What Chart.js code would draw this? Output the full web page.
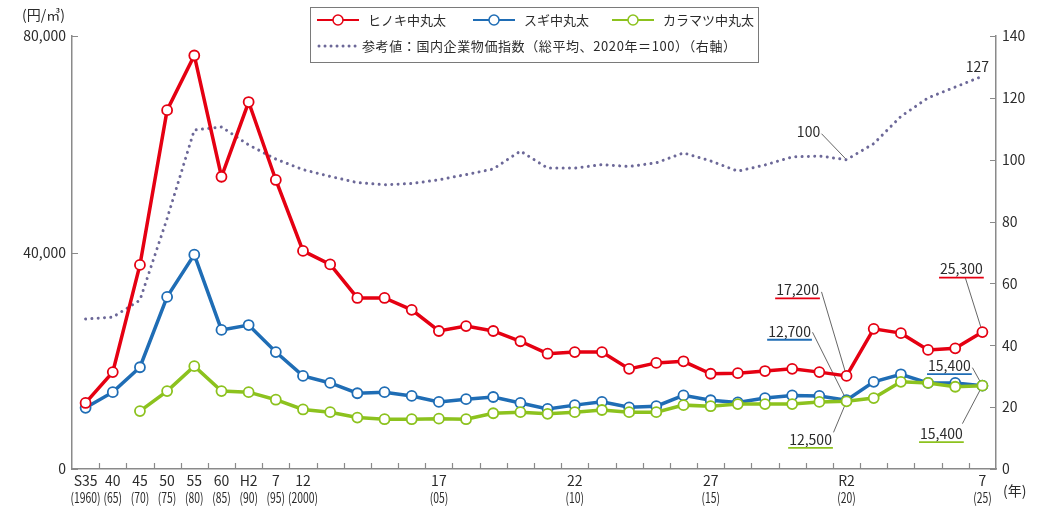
<!DOCTYPE html>
<html lang="ja">
<head>
<meta charset="utf-8">
<script src="https://cdn.jsdelivr.net/npm/chart.js@4.4.1/dist/chart.umd.min.js"></script>
<style>
  html, body { margin: 0; padding: 0; background: #fff; }
  #wrap { width: 1048px; height: 510px; }
</style>
</head>
<body>
<div id="wrap"><canvas id="chart" width="1048" height="510"></canvas></div>
<script>
// 年次（S35〜R7）
const years = [1960, 1965, 1970, 1975, 1980, 1985, 1990, 1995,
  2000, 2001, 2002, 2003, 2004, 2005, 2006, 2007, 2008, 2009, 2010,
  2011, 2012, 2013, 2014, 2015, 2016, 2017, 2018, 2019, 2020,
  2021, 2022, 2023, 2024, 2025];
const eraLabels = ['S35', '40', '45', '50', '55', '60', 'H2', '7', '12',
  '', '', '', '', '17', '', '', '', '', '22', '', '', '', '', '27',
  '', '', '', '', 'R2', '', '', '', '', '7'];
const adLabels = ['(1960)', '(65)', '(70)', '(75)', '(80)', '(85)', '(90)', '(95)', '(2000)',
  '', '', '', '', '(05)', '', '', '', '', '(10)', '', '', '', '', '(15)',
  '', '', '', '', '(20)', '', '', '', '', '(25)'];

// 丸太価格（円/㎥）
const hinoki = [12200, 17900, 37700, 66300, 76400, 54000, 67800, 53400,
  40300, 37800, 31600, 31600, 29400, 25500, 26400, 25500, 23600, 21300, 21600,
  21600, 18500, 19600, 19900, 17600, 17700, 18100, 18500, 17900, 17200,
  25900, 25100, 22000, 22300, 25300];
const sugi = [11300, 14200, 18800, 31800, 39600, 25700, 26600, 21600,
  17200, 15900, 14000, 14200, 13500, 12400, 12900, 13300, 12200, 11100, 11800,
  12400, 11400, 11600, 13600, 12700, 12300, 13100, 13600, 13500, 12700,
  16100, 17500, 15900, 15900, 15400];
const karamatsu = [null, null, 10700, 14400, 19000, 14400, 14200, 12800,
  11000, 10500, 9500, 9200, 9200, 9300, 9200, 10300, 10500, 10200, 10500,
  10900, 10500, 10500, 11800, 11600, 12000, 12000, 12000, 12400, 12500,
  13100, 16100, 15900, 15200, 15400];
// 国内企業物価指数（2020年=100）
const cgpi = [48.5, 49.1, 54.6, 81, 109.6, 110.6, 104.8, 100.2,
  96.8, 94.6, 92.6, 91.9, 92.3, 93.5, 95.2, 97, 102.8, 97.3, 97.3,
  98.4, 97.8, 99, 102.2, 99.6, 96.3, 98.3, 100.9, 101.2, 100,
  105.2, 114, 120, 123.5, 127];

const FONT = '"Noto Sans CJK JP", "Noto Sans", sans-serif';
const TEXT = '#2b2b2b';
const AXIS = '#8a8a8a';
const RED = '#e50012';
const BLUE = '#1f6db5';
const GREEN = '#8cc21e';
const PURPLE = '#6c6898';

const i2020 = years.indexOf(2020);
const i2025 = years.indexOf(2025);

// 数値の吹き出し
const notes = [
  { data: hinoki, axis: 'y', idx: i2020, color: RED, dx: -49, dy: -86, lx: -25, ly: -84 },
  { data: sugi, axis: 'y', idx: i2020, color: BLUE, dx: -57, dy: -69, lx: -34, ly: -68 },
  { data: karamatsu, axis: 'y', idx: i2020, color: GREEN, dx: -36, dy: 38, lx: -13, ly: 31 },
  { data: hinoki, axis: 'y', idx: i2025, color: RED, dx: -21, dy: -63, lx: -17, ly: -54 },
  { data: sugi, axis: 'y', idx: i2025, color: BLUE, dx: -33, dy: -20, lx: -10, ly: -18 },
  { data: karamatsu, axis: 'y', idx: i2025, color: GREEN, dx: -41, dy: 48, lx: -20, ly: 38 },
  { data: cgpi, axis: 'y1', idx: i2020, color: null, dx: -38, dy: -28, lx: -25, ly: -26 },
  { data: cgpi, axis: 'y1', idx: i2025, color: null, dx: -5, dy: -10, lx: null }
];

const fmt = v => v.toLocaleString('en-US');

const leaderLines = {
  id: 'leaderLines',
  beforeDatasetsDraw(chart) {
    const { ctx, scales } = chart;
    ctx.save();
    ctx.strokeStyle = '#555';
    ctx.lineWidth = 0.9;
    notes.forEach(n => {
      if (n.lx === null) return;
      const px = scales.x.getPixelForValue(n.idx);
      const py = scales[n.axis].getPixelForValue(n.data[n.idx]);
      ctx.beginPath();
      ctx.moveTo(px + n.lx, py + n.ly);
      ctx.lineTo(px, py);
      ctx.stroke();
    });
    ctx.restore();
  }
};

const decorations = {
  id: 'decorations',
  afterDraw(chart) {
    const { ctx, chartArea: a, scales } = chart;
    const { x, y, y1 } = scales;

    // 内向きの目盛
    ctx.save();
    ctx.strokeStyle = AXIS;
    ctx.lineWidth = 1.2;
    ctx.beginPath();
    for (let i = 0; i < years.length - 1; i++) {
      const px = Math.round(x.getPixelForValue(i + 0.5)) + 0.5;
      ctx.moveTo(px, a.bottom);
      ctx.lineTo(px, a.bottom - 6);
    }
    y.ticks.forEach(t => {
      const py = Math.round(y.getPixelForValue(t.value)) + 0.5;
      ctx.moveTo(a.left, py);
      ctx.lineTo(a.left + 6, py);
    });
    y1.ticks.forEach(t => {
      const py = Math.round(y1.getPixelForValue(t.value)) + 0.5;
      ctx.moveTo(a.right, py);
      ctx.lineTo(a.right - 6, py);
    });
    ctx.stroke();
    ctx.restore();

    // 西暦の2段目
    ctx.save();
    ctx.fillStyle = TEXT;
    ctx.font = '14px ' + FONT;
    ctx.textAlign = 'center';
    ctx.textBaseline = 'middle';
    adLabels.forEach((t, i) => {
      if (!t) return;
      ctx.save();
      ctx.translate(x.getPixelForValue(i), 498);
      ctx.scale(0.74, 1);
      ctx.fillText(t, 0, 0);
      ctx.restore();
    });
    ctx.textAlign = 'left';
    ctx.fillText('(年)', a.right + 7, 491);
    ctx.fillText('(円/㎥)', 22, 15);
    ctx.restore();

    // 数値ラベル
    ctx.save();
    ctx.font = '14px ' + FONT;
    ctx.textAlign = 'center';
    ctx.textBaseline = 'middle';
    notes.forEach(n => {
      const px = x.getPixelForValue(n.idx);
      const py = scales[n.axis].getPixelForValue(n.data[n.idx]);
      const label = fmt(n.data[n.idx]);
      const tx = px + n.dx, ty = py + n.dy;
      ctx.fillStyle = TEXT;
      ctx.fillText(label, tx, ty);
      if (n.color) {
        const w = ctx.measureText(label).width;
        ctx.strokeStyle = n.color;
        ctx.lineWidth = 1.8;
        ctx.beginPath();
        ctx.moveTo(tx - w / 2 - 1, ty + 8.5);
        ctx.lineTo(tx + w / 2 + 1, ty + 8.5);
        ctx.stroke();
      }
    });
    ctx.restore();

    // 凡例
    ctx.save();
    ctx.strokeStyle = '#7a7a7a';
    ctx.lineWidth = 1;
    ctx.strokeRect(310.5, 7.5, 448, 55);
    ctx.font = '13px ' + FONT;
    ctx.textBaseline = 'middle';
    ctx.fillStyle = TEXT;
    const items = chart.data.datasets;
    const row1 = [[317, 0], [473, 1], [612, 2]];
    row1.forEach(([lx, di]) => {
      const ds = items[di];
      ctx.strokeStyle = ds.borderColor;
      ctx.lineWidth = 2;
      ctx.beginPath();
      ctx.moveTo(lx, 20);
      ctx.lineTo(lx + 42, 20);
      ctx.stroke();
      ctx.beginPath();
      ctx.arc(lx + 21, 20, 5, 0, Math.PI * 2);
      ctx.fillStyle = '#fff';
      ctx.fill();
      ctx.lineWidth = 1.5;
      ctx.stroke();
      ctx.fillStyle = TEXT;
      ctx.fillText(ds.label, lx + 51, 20);
    });
    const dotted = items[3];
    ctx.strokeStyle = dotted.borderColor;
    ctx.lineWidth = 3;
    ctx.lineCap = 'round';
    ctx.setLineDash([0.01, 6]);
    ctx.beginPath();
    ctx.moveTo(319, 46);
    ctx.lineTo(358, 46);
    ctx.stroke();
    ctx.setLineDash([]);
    ctx.fillStyle = TEXT;
    ctx.letterSpacing = '0.6px';
    ctx.fillText(dotted.label, 362, 46);
    ctx.restore();
  }
};

const lineSet = (label, data, color, order) => ({
  label, data, order,
  borderColor: color,
  borderWidth: 3.5,
  pointRadius: 5,
  pointBorderWidth: 1.8,
  pointBackgroundColor: '#fff',
  pointBorderColor: color,
  tension: 0,
  yAxisID: 'y'
});

new Chart(document.getElementById('chart'), {
  type: 'line',
  data: {
    labels: years,
    datasets: [
      lineSet('ヒノキ中丸太', hinoki, RED, 0),
      lineSet('スギ中丸太', sugi, BLUE, 2),
      lineSet('カラマツ中丸太', karamatsu, GREEN, 1),
      {
        label: '参考値：国内企業物価指数（総平均、2020年＝100）（右軸）',
        data: cgpi,
        order: 3,
        borderColor: PURPLE,
        borderWidth: 3,
        borderDash: [0.01, 6.3],
        borderCapStyle: 'round',
        pointRadius: 0,
        tension: 0,
        yAxisID: 'y1'
      }
    ]
  },
  options: {
    responsive: false,
    animation: false,
    devicePixelRatio: 1,
    layout: { padding: { top: 36, left: 0, right: 0, bottom: 0 } },
    plugins: { legend: { display: false }, tooltip: { enabled: false } },
    scales: {
      x: {
        offset: true,
        grid: { display: false, drawTicks: false },
        border: { display: true, color: AXIS, width: 1.5 },
        ticks: {
          autoSkip: false,
          maxRotation: 0,
          padding: 3,
          color: TEXT,
          font: { family: FONT, size: 14 },
          callback: (v, i) => eraLabels[i]
        },
        afterFit: s => { s.height = 41; }
      },
      y: {
        position: 'left',
        min: 0,
        max: 80000,
        grid: { display: false, drawTicks: false },
        border: { display: true, color: AXIS, width: 1.5 },
        ticks: {
          stepSize: 40000,
          padding: 6,
          color: TEXT,
          font: { family: FONT, size: 14 },
          callback: v => fmt(v)
        },
        afterFit: s => { s.width = 72; }
      },
      y1: {
        position: 'right',
        min: 0,
        max: 140,
        grid: { display: false, drawTicks: false },
        border: { display: true, color: AXIS, width: 1.5 },
        ticks: {
          stepSize: 20,
          padding: 6,
          color: TEXT,
          font: { family: FONT, size: 14 }
        },
        afterFit: s => { s.width = 52; }
      }
    }
  },
  plugins: [leaderLines, decorations]
});
</script>
</body>
</html>
